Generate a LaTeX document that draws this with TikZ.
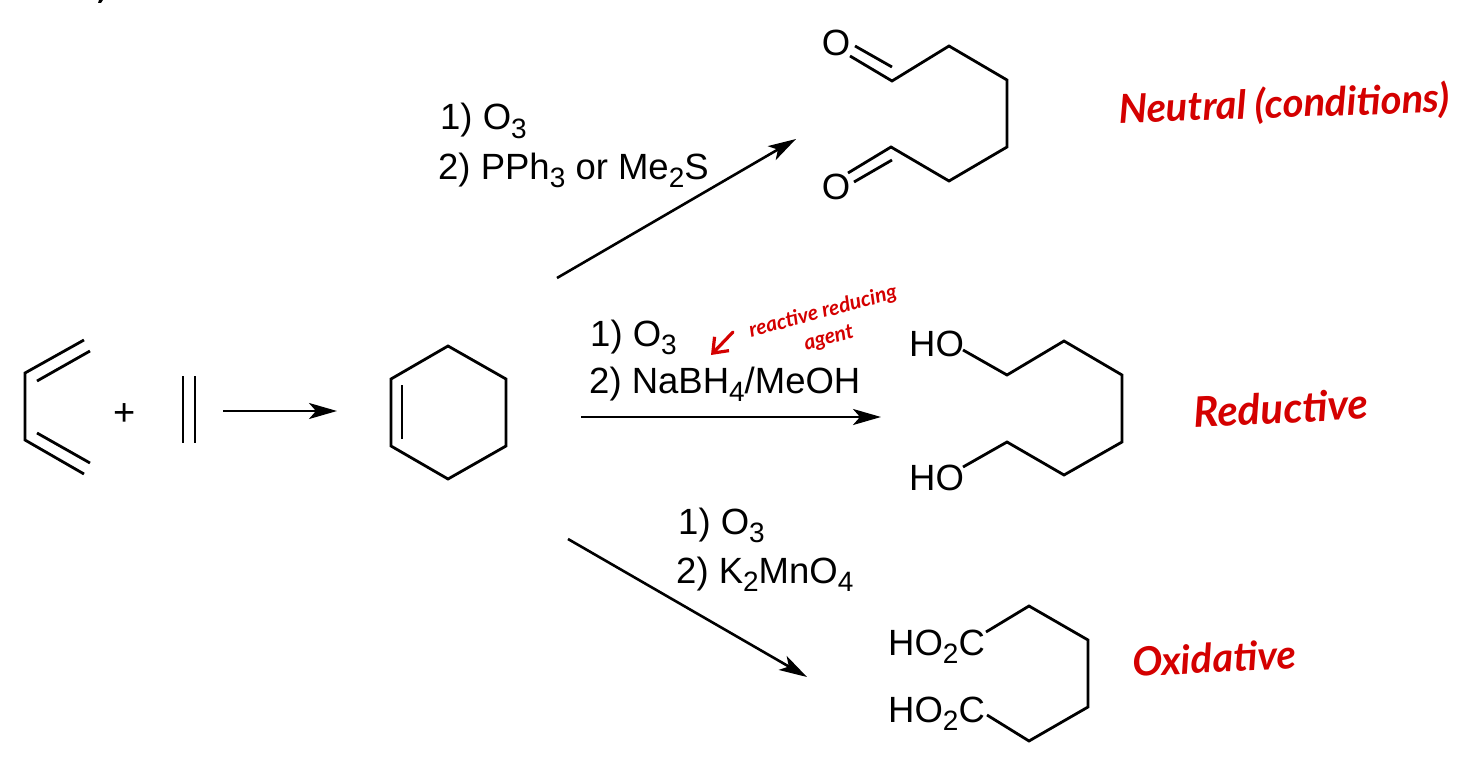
\documentclass[tikz,border=0pt]{standalone}
\usepackage{fontspec}
\setmainfont{Liberation Sans}
\newfontfamily\handfont{Lato}
\usetikzlibrary{arrows.meta}
\definecolor{inkred}{HTML}{D40000}
\newcommand{\subs}[1]{\raisebox{-0.24em}{\fontsize{28}{28}\selectfont #1}}
\tikzset{
  bond/.style={line width=2.8pt},
  rxn/.style={line width=2.6pt,-{Stealth[length=28pt,width=16pt,inset=7pt]}},
  chem/.style={font=\fontsize{36.5}{40}\selectfont,inner sep=0pt,anchor=base west,text=black},
  hand/.style={inner sep=0pt,text=inkred,font=\handfont\bfseries\itshape\fontsize{#1}{#1}\selectfont},
  handarrow/.style={line width=3.2pt,draw=inkred,line cap=round,-{Straight Barb[length=13pt,width=20pt,line width=3.2pt]}}
}
\begin{document}
\begin{tikzpicture}[x=1pt,y=-1pt]
\useasboundingbox (0,0) rectangle (1483,773);
\fill (98,3) -- (101,3) -- (103,0) -- (99,0) -- cycle;

% butadiene
\coordinate (b1) at (84,340);
\coordinate (b2) at (25,373);
\coordinate (b3) at (25,440);
\coordinate (b4) at (84,474);
\coordinate (b1i) at (90,351);
\coordinate (b2i) at (37,381);
\coordinate (b3i) at (37,433);
\coordinate (b4i) at (90,463);
\draw[bond,line join=miter] (b1) -- (b2) -- (b3) -- (b4);
\draw[bond] (b1i) -- (b2i);
\draw[bond] (b3i) -- (b4i);
\node[inner sep=0pt,font=\fontsize{38}{40}\selectfont] (plus) at (125,415) {+};

% ethylene
\coordinate (e1) at (183,376);
\coordinate (e2) at (183,443);
\coordinate (e3) at (195,376);
\coordinate (e4) at (195,443);
\draw[bond] (e1) -- (e2);
\draw[bond] (e3) -- (e4);

% first arrow
\coordinate (a0s) at (223,411);
\coordinate (a0e) at (337,411);
\draw[rxn] (a0s) -- (a0e);

% cyclohexene
\coordinate (c1) at (448,346);
\coordinate (c2) at (506,379);
\coordinate (c3) at (506,446);
\coordinate (c4) at (448,479);
\coordinate (c5) at (391,446);
\coordinate (c6) at (391,379);
\coordinate (c5i) at (402,439);
\coordinate (c6i) at (402,385);
\draw[bond] (c1) -- (c2) -- (c3) -- (c4) -- (c5) -- (c6) -- cycle;
\draw[bond] (c5i) -- (c6i);

% dialdehyde
\node[chem,anchor=center] (o1) at (836,43) {O};
\node[chem,anchor=center] (o2) at (836,187) {O};
\coordinate (d1o) at (850,56);
\coordinate (d1) at (892,81);
\coordinate (d2) at (949,46);
\coordinate (d3) at (1007,80);
\coordinate (d4) at (1007,147);
\coordinate (d5) at (949,181);
\coordinate (d6) at (891,147);
\coordinate (d6o) at (848,173);
\coordinate (d1ia) at (855,46);
\coordinate (d1ib) at (892,67);
\coordinate (d6ia) at (892,160);
\coordinate (d6ib) at (854,182);
\draw[bond] (d1o) -- (d1) -- (d2) -- (d3) -- (d4) -- (d5) -- (d6) -- (d6o);
\draw[bond] (d1ia) -- (d1ib);
\draw[bond] (d6ia) -- (d6ib);

% diol
\node[chem] (ho1) at (909,356) {HO};
\node[chem] (ho2) at (909,490) {HO};
\coordinate (h0) at (963,350);
\coordinate (h1) at (1007,375);
\coordinate (h2) at (1064,341);
\coordinate (h3) at (1122,375);
\coordinate (h4) at (1122,442);
\coordinate (h5) at (1064,475);
\coordinate (h6) at (1007,442);
\coordinate (h7) at (963,467);
\draw[bond] (h0) -- (h1) -- (h2) -- (h3) -- (h4) -- (h5) -- (h6) -- (h7);

% diacid
\node[chem] (ac1) at (888,655) {HO\subs{2}C};
\node[chem] (ac2) at (888,722) {HO\subs{2}C};
\coordinate (k0) at (986,632);
\coordinate (k1) at (1029,606);
\coordinate (k2) at (1088,640);
\coordinate (k3) at (1088,707);
\coordinate (k4) at (1029,741);
\coordinate (k5) at (987,715);
\draw[bond] (k0) -- (k1) -- (k2) -- (k3) -- (k4) -- (k5);

% reaction arrows
\coordinate (a1s) at (557,278);
\coordinate (a1e) at (796,139);
\coordinate (a2s) at (581,417);
\coordinate (a2e) at (881,417);
\coordinate (a3s) at (568,539);
\coordinate (a3e) at (807,677);
\draw[rxn] (a1s) -- (a1e);
\draw[rxn] (a2s) -- (a2e);
\draw[rxn] (a3s) -- (a3e);

% conditions
\node[chem] (t11) at (440,130) {1) O\subs{3}};
\node[chem] (t12) at (438,179) {2) PPh\subs{3} or Me\subs{2}S};
\node[chem] (t21) at (590,346) {1) O\subs{3}};
\node[chem] (t22) at (589,393) {2) NaBH\subs{4}/MeOH};
\node[chem] (t31) at (678,534) {1) O\subs{3}};
\node[chem] (t32) at (676,583) {2) K\subs{2}MnO\subs{4}};

% red annotations
\node[hand=40,rotate=2] (n1) at (1284,105) {Neutral (conditions)};
\node[hand=42,rotate=3] (n2) at (1281,408) {Reductive};
\node[hand=40,rotate=3] (n3) at (1214,658) {Oxidative};
\node[hand=21,rotate=15] (n4) at (823,312) {reactive reducing};
\node[hand=21,rotate=15] (n5) at (829,339) {agent};
\coordinate (ra1) at (733,332);
\coordinate (ra2) at (711,355);
\draw[handarrow] (ra1) -- (ra2);
\end{tikzpicture}
\end{document}
